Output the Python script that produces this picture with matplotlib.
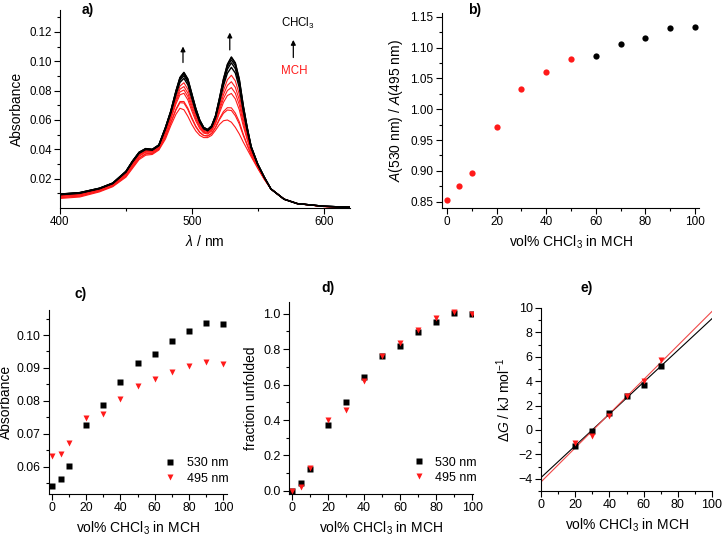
import numpy as np
import matplotlib
matplotlib.use("Agg")
import matplotlib.pyplot as plt
from matplotlib.ticker import MultipleLocator, FixedLocator, FormatStrFormatter

plt.rcParams['font.family'] = ['Liberation Sans', 'DejaVu Sans']
plt.rcParams['mathtext.fontset'] = 'custom'
plt.rcParams['mathtext.rm'] = 'Liberation Sans'
plt.rcParams['mathtext.it'] = 'Liberation Sans:italic'
plt.rcParams['mathtext.bf'] = 'Liberation Sans:bold'

RED = '#ff1a1a'

# a) UV-vis spectra, absorbance in mAbs
wl = [400, 415, 430, 440, 450, 455, 460, 465, 470, 475, 480, 484, 488, 491, 494,
      497, 500, 503, 506, 509, 512, 515, 518, 521, 524, 527, 530, 533, 536, 539,
      542, 545, 550, 555, 560, 570, 580, 600, 620]

spec_0 = [6.5, 7.5, 11, 14.5, 21, 27, 33, 36, 36.5, 39.5, 47, 56, 64, 68, 67, 62.5, 57, 52.5, 49.5, 48,
          48, 49.5, 53, 57, 59.5, 60, 58.5, 55, 50.5, 45, 40, 35, 27, 19.5, 13, 6, 3, 1.0, 0.4]
spec_5 = [7.0, 8.0, 11.5, 15.0, 21.7, 27.9, 33.9, 36.8, 37.1, 40.1, 48.4, 57.8, 66.9, 71.8, 71.6, 67.1, 60.8, 55.3, 51.4, 49.3,
          49.0, 50.7, 54.8, 60.2, 64.6, 66.8, 66.5, 62.9, 57.3, 49.5, 42.7, 36.3, 27.5, 19.8, 13, 6, 3, 1.0, 0.4]
spec_10 = [7.2, 8.2, 11.6, 15.1, 21.9, 28.1, 34.1, 37.0, 37.3, 40.3, 48.8, 58.2, 67.5, 72.6, 72.6, 68.1, 61.6, 55.9, 51.8, 49.5,
           49.2, 50.9, 55.2, 61.0, 65.8, 68.4, 68.3, 64.7, 58.8, 50.5, 43.3, 36.5, 27.7, 19.8, 13, 6, 3, 1.0, 0.4]
spec_20 = [7.8, 8.8, 12.1, 15.6, 22.8, 29.2, 35.2, 38.0, 38.0, 41.0, 50.5, 60.4, 71.0, 77.2, 78.2, 73.7, 66.2, 59.3, 54.1, 51.1,
           50.4, 52.4, 57.4, 64.9, 72.0, 76.7, 78.1, 74.4, 67.0, 56.0, 46.6, 38.1, 28.3, 20.2, 13, 6, 3, 1.1, 0.4]
spec_30 = [8.1, 9.1, 12.3, 15.8, 23.1, 29.7, 35.7, 38.4, 38.4, 41.4, 51.2, 61.3, 72.5, 79.1, 80.5, 76.0, 68.1, 60.7, 55.1, 51.7,
           50.9, 53.0, 58.3, 66.5, 74.6, 80.1, 82.1, 78.3, 70.4, 58.3, 48.0, 38.7, 28.6, 20.3, 13, 6, 3, 1.1, 0.5]
spec_40 = [8.4, 9.4, 12.6, 16.1, 23.5, 30.1, 36.1, 38.8, 38.7, 41.7, 52.0, 62.2, 73.9, 81.0, 82.8, 78.3, 70.0, 62.1, 56.0, 52.3,
           51.4, 53.5, 59.2, 68.2, 77.2, 83.6, 86.1, 82.3, 73.8, 60.5, 49.3, 39.3, 28.9, 20.4, 13, 6, 3, 1.1, 0.5]
spec_50 = [8.7, 9.7, 12.8, 16.3, 23.9, 30.6, 36.6, 39.2, 39.0, 42.0, 52.8, 63.2, 75.5, 83.1, 85.4, 80.9, 72.1, 63.7, 57.1, 53.0,
           52.0, 54.2, 60.2, 70.0, 80.0, 87.4, 90.5, 86.7, 77.5, 63.0, 50.8, 40.0, 29.2, 20.6, 13, 6, 3, 1.1, 0.5]
spec_60 = [9.0, 10.0, 13.1, 16.6, 24.4, 31.2, 37.2, 39.8, 39.4, 42.4, 53.7, 64.4, 77.4, 85.6, 88.4, 83.9, 74.6, 65.5, 58.3, 53.9,
           52.6, 55.0, 61.4, 72.1, 83.4, 91.9, 95.9, 92.0, 82.0, 66.0, 52.6, 40.9, 29.5, 20.8, 13, 6, 3, 1.2, 0.5]
spec_70 = [9.2, 10.2, 13.3, 16.8, 24.6, 31.6, 37.6, 40.1, 39.7, 42.7, 54.3, 65.1, 78.6, 87.1, 90.2, 85.7, 76.1, 66.6, 59.1, 54.4,
           53.0, 55.4, 62.1, 73.4, 85.4, 94.6, 99.0, 95.0, 84.6, 67.8, 53.7, 41.4, 29.7, 20.9, 13, 6, 3, 1.2, 0.5]
spec_80 = [9.4, 10.4, 13.4, 16.9, 24.8, 31.8, 37.8, 40.3, 39.8, 42.8, 54.6, 65.6, 79.3, 88.1, 91.4, 86.9, 77.1, 67.3, 59.5, 54.7,
           53.3, 55.7, 62.6, 74.2, 86.7, 96.3, 101.0, 97.0, 86.3, 68.9, 54.3, 41.7, 29.9, 20.9, 13, 6, 3, 1.2, 0.5]
spec_90 = [9.5, 10.5, 13.5, 17.0, 25.0, 32.0, 38.0, 40.5, 40.0, 43.0, 54.9, 65.9, 79.8, 88.8, 92.2, 87.8, 77.8, 67.9, 59.9, 54.9,
           53.5, 55.9, 62.9, 74.8, 87.7, 97.6, 102.6, 98.6, 87.6, 69.8, 54.9, 41.9, 30.0, 21.0, 13, 6, 3, 1.2, 0.5]
spec_100 = [9.5, 10.5, 13.5, 17, 25, 32, 38, 40.5, 40, 43, 55, 66, 80, 89, 92.5, 88, 78, 68, 60, 55,
            53.5, 56, 63, 75, 88, 98, 103, 99, 88, 70, 55, 42, 30, 21, 13, 6, 3, 1.2, 0.5]

red_specs = [spec_0, spec_5, spec_10, spec_20, spec_30, spec_40, spec_50]
black_specs = [spec_60, spec_70, spec_80, spec_90, spec_100]

# b) - e) titration data
vol = [0, 5, 10, 20, 30, 40, 50, 60, 70, 80, 90, 100]
ratio = [0.853, 0.876, 0.896, 0.971, 1.033, 1.061, 1.081, 1.087, 1.106, 1.116, 1.132, 1.133]
abs530 = [0.0541, 0.0562, 0.0601, 0.0726, 0.0787, 0.0856, 0.0916, 0.0943, 0.0983, 0.1012, 0.1037, 0.1034]
abs495 = [0.0633, 0.0640, 0.0671, 0.0747, 0.0761, 0.0807, 0.0845, 0.0867, 0.0888, 0.0906, 0.0917, 0.0912]
frac530 = [0.0, 0.043, 0.122, 0.373, 0.499, 0.640, 0.760, 0.816, 0.897, 0.953, 1.004, 1.0]
frac495 = [0.0, 0.021, 0.129, 0.401, 0.454, 0.617, 0.758, 0.835, 0.908, 0.976, 1.011, 0.998]
vol_dg = [20, 30, 40, 50, 60, 70]
dg530 = [-1.31, -0.07, 1.41, 2.78, 3.69, 5.28]
dg495 = [-1.03, -0.49, 1.16, 2.81, 4.02, 5.72]

fig = plt.figure(figsize=(7.24, 5.41), dpi=100)
W, H = 724, 541


def px_axes(l, t, r, b):
    return fig.add_axes([l / W, 1 - b / H, (r - l) / W, (b - t) / H])


def style(ax, size):
    ax.spines['top'].set_visible(False)
    ax.spines['right'].set_visible(False)
    ax.tick_params(which='both', direction='out', labelsize=size, width=0.8)
    ax.tick_params(which='major', length=4, pad=2)
    ax.tick_params(which='minor', length=2)


xlab = r'vol% CHCl$_3$ in MCH'

# ---- a)
ax = px_axes(60, 10, 350, 208)
for s in red_specs:
    ax.plot(wl, np.array(s) / 1000, color=RED, lw=0.8)
for s in black_specs:
    ax.plot(wl, np.array(s) / 1000, color='black', lw=1.0)
ax.set_xlim(400, 620)
ax.set_ylim(0, 0.135)
ax.set_yticks(np.arange(0.02, 0.121, 0.02))
ax.yaxis.set_minor_locator(FixedLocator(np.arange(0.01, 0.135, 0.01)))
ax.yaxis.set_major_formatter(FormatStrFormatter('%.2f'))
ax.xaxis.set_major_locator(MultipleLocator(100))
ax.xaxis.set_minor_locator(MultipleLocator(50))
style(ax, 8.3)
ax.set_xlabel(r'$\lambda$ / nm', size=10)
ax.set_ylabel('Absorbance', size=10)
arr = dict(arrowstyle='-|>', color='black', lw=0.9, mutation_scale=7)
ax.annotate('', xy=(493.3, 0.112), xytext=(493.3, 0.0973), arrowprops=arr)
ax.annotate('', xy=(528.8, 0.1215), xytext=(528.8, 0.1059), arrowprops=arr)
ax.annotate('', xy=(577, 0.1165), xytext=(577, 0.1007), arrowprops=arr)
ax.text(567.5, 0.1257, r'CHCl$_3$', size=8.3, ha='left', va='center')
ax.text(567.5, 0.0932, 'MCH', size=8.3, color=RED, ha='left', va='center')

# ---- b)
ax = px_axes(442, 13, 699, 208)
ax.plot(vol[:7], ratio[:7], 'o', color=RED, ms=4.5, mec='none')
ax.plot(vol[7:], ratio[7:], 'o', color='black', ms=4.5, mec='none')
ax.set_xlim(-2, 101.6)
ax.set_ylim(0.8398, 1.156)
ax.xaxis.set_major_locator(MultipleLocator(20))
ax.xaxis.set_minor_locator(MultipleLocator(10))
ax.yaxis.set_major_locator(MultipleLocator(0.05))
ax.yaxis.set_minor_locator(MultipleLocator(0.025))
ax.yaxis.set_major_formatter(FormatStrFormatter('%.2f'))
style(ax, 8.5)
ax.set_xlabel(xlab, size=10)
ax.set_ylabel(r'$\it{A}$(530 nm) / $\it{A}$(495 nm)', size=10)

# ---- c)
ax = px_axes(49, 310, 227, 494)
ax.plot(vol, abs530, 's', color='black', ms=4, mec='none', label='530 nm')
ax.plot(vol, abs495, 'v', color=RED, ms=5, mec='none', label='495 nm')
ax.set_xlim(-1.75, 102.3)
ax.set_ylim(0.0517, 0.1076)
ax.xaxis.set_major_locator(MultipleLocator(20))
ax.xaxis.set_minor_locator(MultipleLocator(10))
ax.yaxis.set_major_locator(MultipleLocator(0.01))
ax.yaxis.set_minor_locator(MultipleLocator(0.005))
ax.yaxis.set_major_formatter(FormatStrFormatter('%.2f'))
style(ax, 8.8)
ax.set_xlabel(xlab, size=10)
ax.set_ylabel('Absorbance', size=10)
ax.yaxis.set_label_coords(-0.205, 0.5)
ax.legend(loc='lower right', bbox_to_anchor=(1.07, -0.01), frameon=False, fontsize=9,
          handletextpad=0.7, labelspacing=0.25, handlelength=1.2)

# ---- d)
ax = px_axes(289, 302, 473, 494)
ax.plot(vol, frac530, 's', color='black', ms=4, mec='none', label='530 nm')
ax.plot(vol, frac495, 'v', color=RED, ms=5, mec='none', label='495 nm')
ax.set_xlim(-1.8, 100.5)
ax.set_ylim(-0.017, 1.065)
ax.xaxis.set_major_locator(MultipleLocator(20))
ax.xaxis.set_minor_locator(MultipleLocator(10))
ax.yaxis.set_major_locator(MultipleLocator(0.2))
ax.yaxis.set_minor_locator(MultipleLocator(0.1))
ax.yaxis.set_major_formatter(FormatStrFormatter('%.1f'))
style(ax, 9)
ax.set_xlabel(xlab, size=10)
ax.set_ylabel('fraction unfolded', size=10)
ax.legend(loc='lower right', bbox_to_anchor=(1.08, -0.005), frameon=False, fontsize=9,
          handletextpad=0.7, labelspacing=0.25, handlelength=1.2)

# ---- e)
ax = px_axes(541, 308, 712, 491)
xs = np.linspace(0, 100, 2)
k530 = np.polyfit(vol_dg, dg530, 1)
k495 = np.polyfit(vol_dg, dg495, 1)
ax.plot(xs, np.polyval(k530, xs), color='black', lw=0.8)
ax.plot(xs, np.polyval(k495, xs), color='#f04848', lw=0.8)
ax.plot(vol_dg, dg530, 's', color='black', ms=4, mec='none')
ax.plot(vol_dg, dg495, 'v', color=RED, ms=5, mec='none')
ax.set_xlim(0, 100)
ax.set_ylim(-5, 10)
ax.xaxis.set_major_locator(MultipleLocator(20))
ax.xaxis.set_minor_locator(MultipleLocator(10))
ax.yaxis.set_major_locator(FixedLocator(np.arange(-4, 11, 2)))
ax.yaxis.set_minor_locator(FixedLocator(np.arange(-5, 10, 2)))
style(ax, 9)
ax.set_xlabel(xlab, size=10)
ax.set_ylabel(r'$\Delta\it{G}$ / kJ mol$^{-1}$', size=10)

# panel letters
for lab, x, y in [('a)', 88, 10), ('b)', 475, 10), ('c)', 81, 294), ('d)', 328, 288), ('e)', 587, 288)]:
    fig.text(x / W, 1 - y / H, lab, ha='center', va='center', fontweight='bold', size=10)

fig.savefig('out.png', dpi=100)
